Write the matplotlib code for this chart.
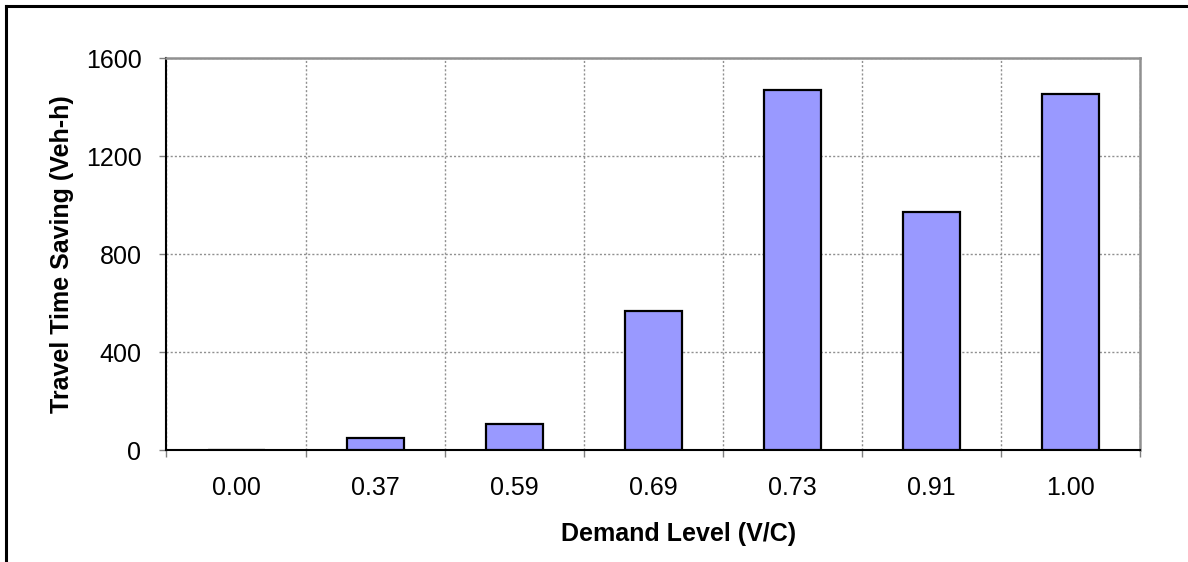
import matplotlib
matplotlib.use('Agg')
import matplotlib.pyplot as plt
from matplotlib.lines import Line2D

demand_levels = ['0.00', '0.37', '0.59', '0.69', '0.73', '0.91', '1.00']
time_saving = [0, 50, 105, 568, 1469, 970, 1453]
y_ticks = [0, 400, 800, 1200, 1600]

plt.rcParams['font.family'] = ['Liberation Sans', 'DejaVu Sans']

W, H = 1188, 562
fig = plt.figure(figsize=(W / 100, H / 100), dpi=100)
ax = fig.add_axes([166.5 / W, 1 - 450 / H, (1140 - 166.5) / W, (450 - 58) / H])

pos = list(range(len(demand_levels)))
ax.bar(pos, time_saving, width=0.41, color='#9999FF', edgecolor='black', linewidth=1.6, zorder=3)

ax.set_xlim(-0.5, len(demand_levels) - 0.5)
ax.set_ylim(0, 1600)

# boundaries carry the tick marks and grid, centers carry the labels
ax.set_xticks([p + 0.5 for p in pos[:-1]] + [-0.5, len(pos) - 0.5])
ax.set_xticklabels([])
ax.set_xticks(pos, minor=True)
ax.set_xticklabels(demand_levels, minor=True, fontsize=18)
ax.tick_params(axis='x', which='minor', length=0, pad=19)
ax.tick_params(axis='x', which='major', length=5, width=1, color='#808080', direction='out')

ax.set_yticks(y_ticks)
ax.set_yticklabels([str(v) for v in y_ticks], fontsize=18)
ax.tick_params(axis='y', length=5, width=1, color='#808080', direction='out', pad=13)

ax.grid(True, which='major', color='#909090', linestyle=(0, (1.5, 1.5)), linewidth=1.0, zorder=0)
ax.set_axisbelow(True)

for s in ['left', 'bottom']:
    ax.spines[s].set_color('black')
    ax.spines[s].set_linewidth(1.5)
for s in ['top', 'right']:
    ax.spines[s].set_color('#909090')
    ax.spines[s].set_linewidth(1.8)

ax.set_xlabel('Demand Level (V/C)', fontsize=18, fontweight='bold')
ax.set_ylabel('Travel Time Saving (Veh-h)', fontsize=18, fontweight='bold')
ax.xaxis.set_label_coords((679 - 166.5) / 973.5, (450 - 522) / 392)
ax.yaxis.set_label_coords((74 - 166.5) / 973.5, 0.5)

# outer frame (left and top edges visible)
fig.add_artist(Line2D([6 / W, 6 / W], [0, 1 - 6 / H], color='black', linewidth=2.2, transform=fig.transFigure))
fig.add_artist(Line2D([6 / W, 1], [1 - 6 / H, 1 - 6 / H], color='black', linewidth=2.2, transform=fig.transFigure))

fig.savefig('out.png', dpi=100)
